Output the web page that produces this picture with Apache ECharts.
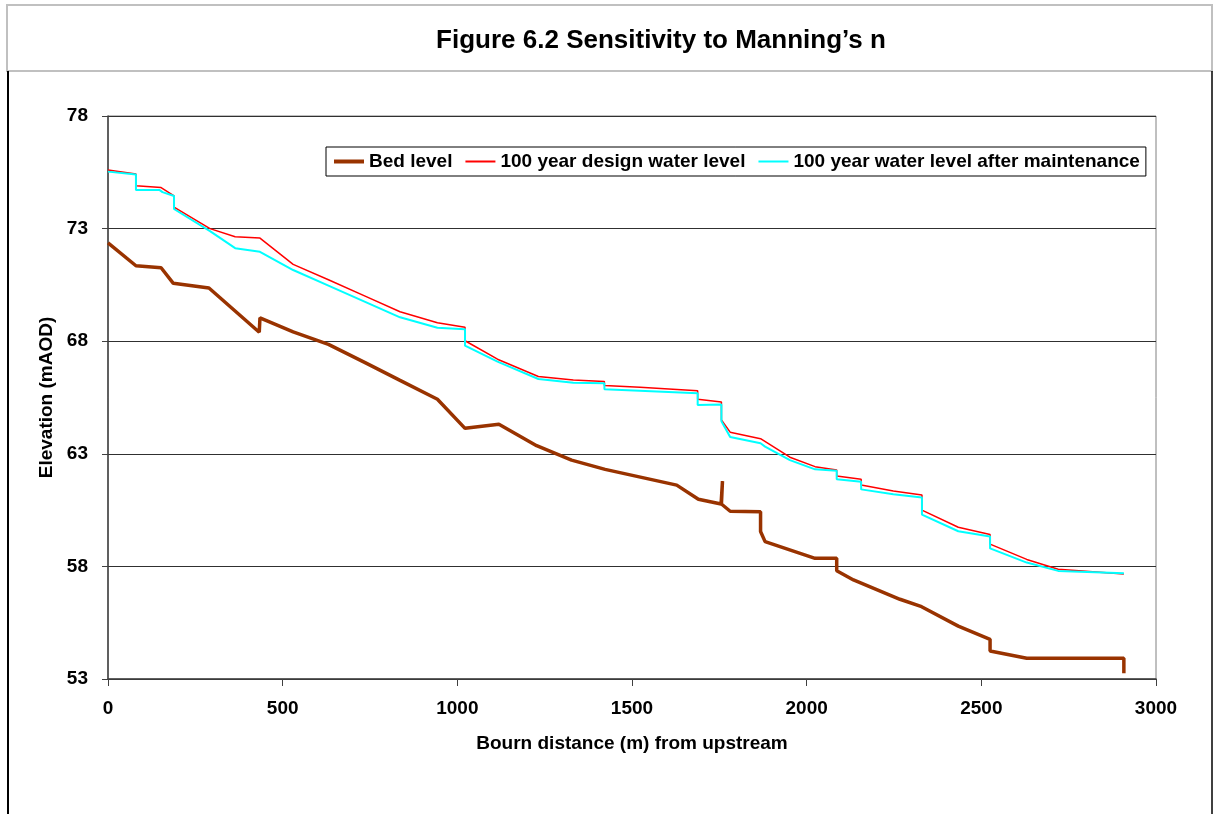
<!DOCTYPE html>
<html>
<head>
<meta charset="utf-8">
<title>Sensitivity to Manning's n</title>
<script src="https://cdn.jsdelivr.net/npm/echarts@6/dist/echarts.min.js"></script>
<style>
  html, body { margin: 0; padding: 0; background: #fff; }
  #chart { width: 1214px; height: 814px; }
</style>
</head>
<body>
<div id="chart"></div>
<script>
// Long profile of the Bourn: distance from upstream (m) and elevation (mAOD)
const bedDistance = [0, 80, 152, 187, 289, 433, 435, 530, 631, 736, 836, 943, 1022, 1119, 1227, 1327, 1423, 1628, 1690, 1755, 1759, 1756, 1781, 1868, 1868, 1881, 2024, 2086, 2086, 2134, 2267, 2329, 2434, 2525, 2525, 2630, 2908, 2908];
const bedLevel = [72.37, 71.35, 71.26, 70.57, 70.36, 68.40, 69.04, 68.41, 67.86, 67.05, 66.26, 65.42, 64.13, 64.31, 63.36, 62.72, 62.31, 61.61, 60.98, 60.77, 61.79, 60.77, 60.45, 60.43, 59.55, 59.10, 58.36, 58.36, 57.81, 57.40, 56.54, 56.21, 55.35, 54.76, 54.24, 53.92, 53.92, 53.25];

const designDistance = [0, 80, 80, 152, 189, 189, 292, 364, 435, 530, 631, 736, 836, 943, 1022, 1022, 1115, 1232, 1332, 1421, 1421, 1523, 1688, 1688, 1756, 1756, 1781, 1868, 1952, 2024, 2086, 2086, 2156, 2156, 2248, 2330, 2330, 2434, 2525, 2525, 2630, 2720, 2908];
const designLevel = [75.60, 75.42, 74.90, 74.82, 74.45, 73.95, 73.00, 72.64, 72.58, 71.41, 70.73, 70.00, 69.31, 68.82, 68.62, 68.02, 67.20, 66.43, 66.28, 66.21, 66.03, 65.96, 65.80, 65.42, 65.30, 64.50, 63.96, 63.67, 62.85, 62.43, 62.28, 62.01, 61.87, 61.61, 61.35, 61.17, 60.50, 59.74, 59.42, 58.99, 58.31, 57.87, 57.66];

const maintDistance = [0, 80, 80, 148, 156, 189, 189, 292, 364, 435, 530, 631, 736, 836, 943, 1022, 1022, 1115, 1232, 1332, 1421, 1421, 1688, 1688, 1756, 1756, 1781, 1868, 1881, 1952, 2024, 2086, 2086, 2156, 2156, 2248, 2330, 2330, 2434, 2525, 2525, 2630, 2720, 2908];
const maintLevel = [75.53, 75.40, 74.71, 74.71, 74.62, 74.45, 73.87, 72.89, 72.13, 71.97, 71.16, 70.47, 69.75, 69.06, 68.60, 68.53, 67.80, 67.09, 66.32, 66.16, 66.13, 65.87, 65.69, 65.17, 65.19, 64.45, 63.75, 63.47, 63.32, 62.72, 62.31, 62.25, 61.87, 61.76, 61.42, 61.20, 61.06, 60.30, 59.56, 59.33, 58.80, 58.17, 57.80, 57.70];

const seriesNames = ['Bed level', '100 year design water level', '100 year water level after maintenance'];
const titleText = 'Figure 6.2 Sensitivity to Manning\u2019s n';
const xAxisTitle = 'Bourn distance (m) from upstream';
const yAxisTitle = 'Elevation (mAOD)';

const FONT = '"Liberation Sans", Arial, sans-serif';
const lineWidths = [3.5, 1.5, 2];
const lineColors = ['#993300', '#ff0000', '#00ffff'];

function pairs(xs, ys) {
  return xs.map((x, i) => [x, ys[i]]);
}

const chart = echarts.init(document.getElementById('chart'), null, { renderer: 'canvas' });

chart.setOption({
  animation: false,
  backgroundColor: '#ffffff',
  textStyle: { fontFamily: FONT },
  graphic: [
    {
      type: 'rect',
      shape: { x: 7, y: 5, width: 1205, height: 66 },
      style: { fill: '#ffffff', stroke: '#c0c0c0', lineWidth: 2 },
      silent: true
    },
    {
      type: 'line',
      shape: { x1: 8, y1: 71, x2: 8, y2: 814 },
      style: { stroke: '#000000', lineWidth: 2 },
      silent: true
    },
    {
      type: 'line',
      shape: { x1: 1212, y1: 71, x2: 1212, y2: 814 },
      style: { stroke: '#000000', lineWidth: 1.5 },
      silent: true
    },
    {
      type: 'text',
      x: 661,
      y: 41,
      style: {
        text: titleText,
        font: 'bold 26px ' + FONT,
        fill: '#000000',
        textAlign: 'center',
        textVerticalAlign: 'middle'
      },
      silent: true
    }
  ],
  legend: {
    left: 326,
    top: 147,
    orient: 'horizontal',
    padding: [5, 6, 5, 6],
    itemGap: 12,
    itemWidth: 30,
    itemHeight: 14,
    borderColor: '#000000',
    borderWidth: 1,
    backgroundColor: '#ffffff',
    itemStyle: { opacity: 0 },
    textStyle: { fontFamily: FONT, fontWeight: 'bold', fontSize: 19, color: '#000000' },
    data: seriesNames.map((name, i) => ({
      name: name,
      lineStyle: { width: i === 0 ? 4 : 2, color: lineColors[i] }
    }))
  },
  grid: {
    left: 108,
    right: 58,
    top: 116,
    bottom: 135,
    show: true,
    borderColor: '#808080',
    borderWidth: 1,
    containLabel: false
  },
  xAxis: {
    type: 'value',
    min: 0,
    max: 3000,
    interval: 500,
    name: xAxisTitle,
    nameLocation: 'middle',
    nameGap: 55,
    nameTextStyle: { fontFamily: FONT, fontWeight: 'bold', fontSize: 19, color: '#000000' },
    axisLine: { show: true, lineStyle: { color: '#404040', width: 1.5 } },
    axisTick: { show: true, inside: false, length: 7, lineStyle: { color: '#404040' } },
    axisLabel: {
      margin: 20,
      fontFamily: FONT,
      fontWeight: 'bold',
      fontSize: 19,
      color: '#000000',
      formatter: (v) => String(v)
    },
    splitLine: { show: false }
  },
  yAxis: {
    type: 'value',
    min: 53,
    max: 78,
    interval: 5,
    name: yAxisTitle,
    nameLocation: 'middle',
    nameRotate: 90,
    nameGap: 43,
    nameTextStyle: { fontFamily: FONT, fontWeight: 'bold', fontSize: 19, color: '#000000' },
    axisLine: { show: true, lineStyle: { color: '#404040', width: 1.5 } },
    axisTick: { show: true, inside: false, length: 6, lineStyle: { color: '#404040' } },
    axisLabel: {
      margin: 20,
      fontFamily: FONT,
      fontWeight: 'bold',
      fontSize: 19,
      color: '#000000',
      formatter: (v) => String(v)
    },
    splitLine: { show: true, lineStyle: { color: '#303030', width: 1.2 } }
  },
  series: [
    {
      name: seriesNames[0],
      type: 'line',
      data: pairs(bedDistance, bedLevel),
      showSymbol: false,
      symbol: 'none',
      color: lineColors[0],
      lineStyle: { color: lineColors[0], width: lineWidths[0] },
      z: 2
    },
    {
      name: seriesNames[1],
      type: 'line',
      data: pairs(designDistance, designLevel),
      showSymbol: false,
      symbol: 'none',
      color: lineColors[1],
      lineStyle: { color: lineColors[1], width: lineWidths[1] },
      z: 3
    },
    {
      name: seriesNames[2],
      type: 'line',
      data: pairs(maintDistance, maintLevel),
      showSymbol: false,
      symbol: 'none',
      color: lineColors[2],
      lineStyle: { color: lineColors[2], width: lineWidths[2] },
      z: 4
    }
  ]
});
</script>
</body>
</html>
